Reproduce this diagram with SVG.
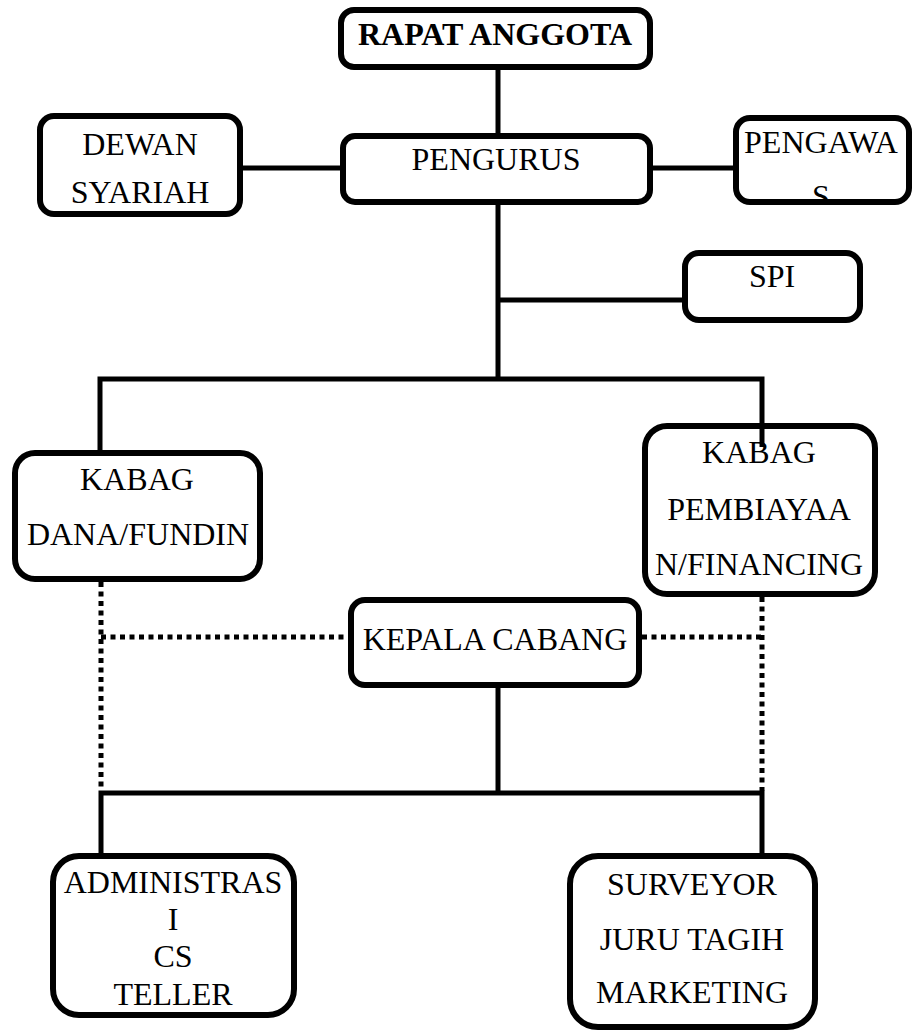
<svg xmlns="http://www.w3.org/2000/svg" width="913" height="1035" viewBox="0 0 913 1035">
<style>
.box{fill:#fff;stroke:#000;stroke-width:6}
.ln{fill:none;stroke:#000;stroke-width:5}
.dot{fill:none;stroke:#000;stroke-width:5;stroke-dasharray:5 4.5}
text{font-family:"Liberation Serif","Times New Roman",serif;font-size:32px;fill:#000;text-anchor:middle}
.b{font-weight:bold}
</style>
<defs>
<clipPath id="clipPengawas"><rect x="739" y="121" width="167" height="78"/></clipPath>
</defs>
<rect width="913" height="1035" fill="#fff"/>
<g id="connectors">
<line class="ln" x1="498" y1="67" x2="498" y2="136"/>
<line class="ln" x1="243" y1="168" x2="343" y2="168"/>
<line class="ln" x1="650" y1="168" x2="736" y2="168"/>
<line class="ln" x1="498" y1="202" x2="498" y2="381"/>
<line class="ln" x1="498" y1="300" x2="685" y2="300"/>
<polyline class="ln" points="100,453 100,379 762,379 762,447"/>
<line class="dot" x1="101" y1="582" x2="101" y2="791"/>
<line class="dot" x1="762" y1="597" x2="762" y2="791"/>
<line class="dot" x1="101" y1="637" x2="348" y2="637"/>
<line class="dot" x1="642" y1="637" x2="762" y2="637"/>
<line class="ln" x1="498" y1="685" x2="498" y2="793"/>
<polyline class="ln" points="101,856 101,793 762,793 762,856"/>
</g>
<g id="rapat-anggota">
<rect class="box" x="341" y="10" width="309" height="57" rx="13"/>
<text class="b" x="495" y="45">RAPAT ANGGOTA</text>
</g>
<g id="pengurus">
<rect class="box" x="343" y="136" width="307" height="66" rx="12"/>
<text x="496" y="170">PENGURUS</text>
</g>
<g id="dewan-syariah">
<rect class="box" x="40" y="116" width="200" height="98" rx="14"/>
<text x="140" y="155">DEWAN</text>
<text x="140" y="203">SYARIAH</text>
</g>
<g id="pengawas">
<rect class="box" x="736" y="118" width="173" height="84" rx="14"/>
<text x="821" y="153">PENGAWA</text>
<text x="821" y="207" clip-path="url(#clipPengawas)">S</text>
</g>
<g id="spi">
<rect class="box" x="685" y="253" width="175" height="67" rx="14"/>
<text x="772" y="287">SPI</text>
</g>
<g id="kabag-dana">
<rect class="box" x="15" y="453" width="245" height="126" rx="20"/>
<text x="137" y="490">KABAG</text>
<text x="138" y="545">DANA/FUNDIN</text>
</g>
<g id="kabag-pembiayaan">
<rect class="box" x="645" y="426" width="230" height="168" rx="22"/>
<line class="ln" x1="762" y1="423" x2="762" y2="447"/>
<text x="759" y="463">KABAG</text>
<text x="759" y="520">PEMBIAYAA</text>
<text x="759" y="575">N/FINANCING</text>
</g>
<g id="kepala-cabang">
<rect class="box" x="351" y="600" width="288" height="85" rx="14"/>
<text x="495" y="650">KEPALA CABANG</text>
</g>
<g id="administrasi">
<rect class="box" x="53" y="856" width="241" height="159" rx="26"/>
<text x="173" y="893">ADMINISTRAS</text>
<text x="173" y="930">I</text>
<text x="173" y="967">CS</text>
<text x="173" y="1005">TELLER</text>
</g>
<g id="surveyor">
<rect class="box" x="570" y="856" width="245" height="171" rx="28"/>
<text x="692" y="895">SURVEYOR</text>
<text x="692" y="950">JURU TAGIH</text>
<text x="692" y="1003">MARKETING</text>
</g>
</svg>
